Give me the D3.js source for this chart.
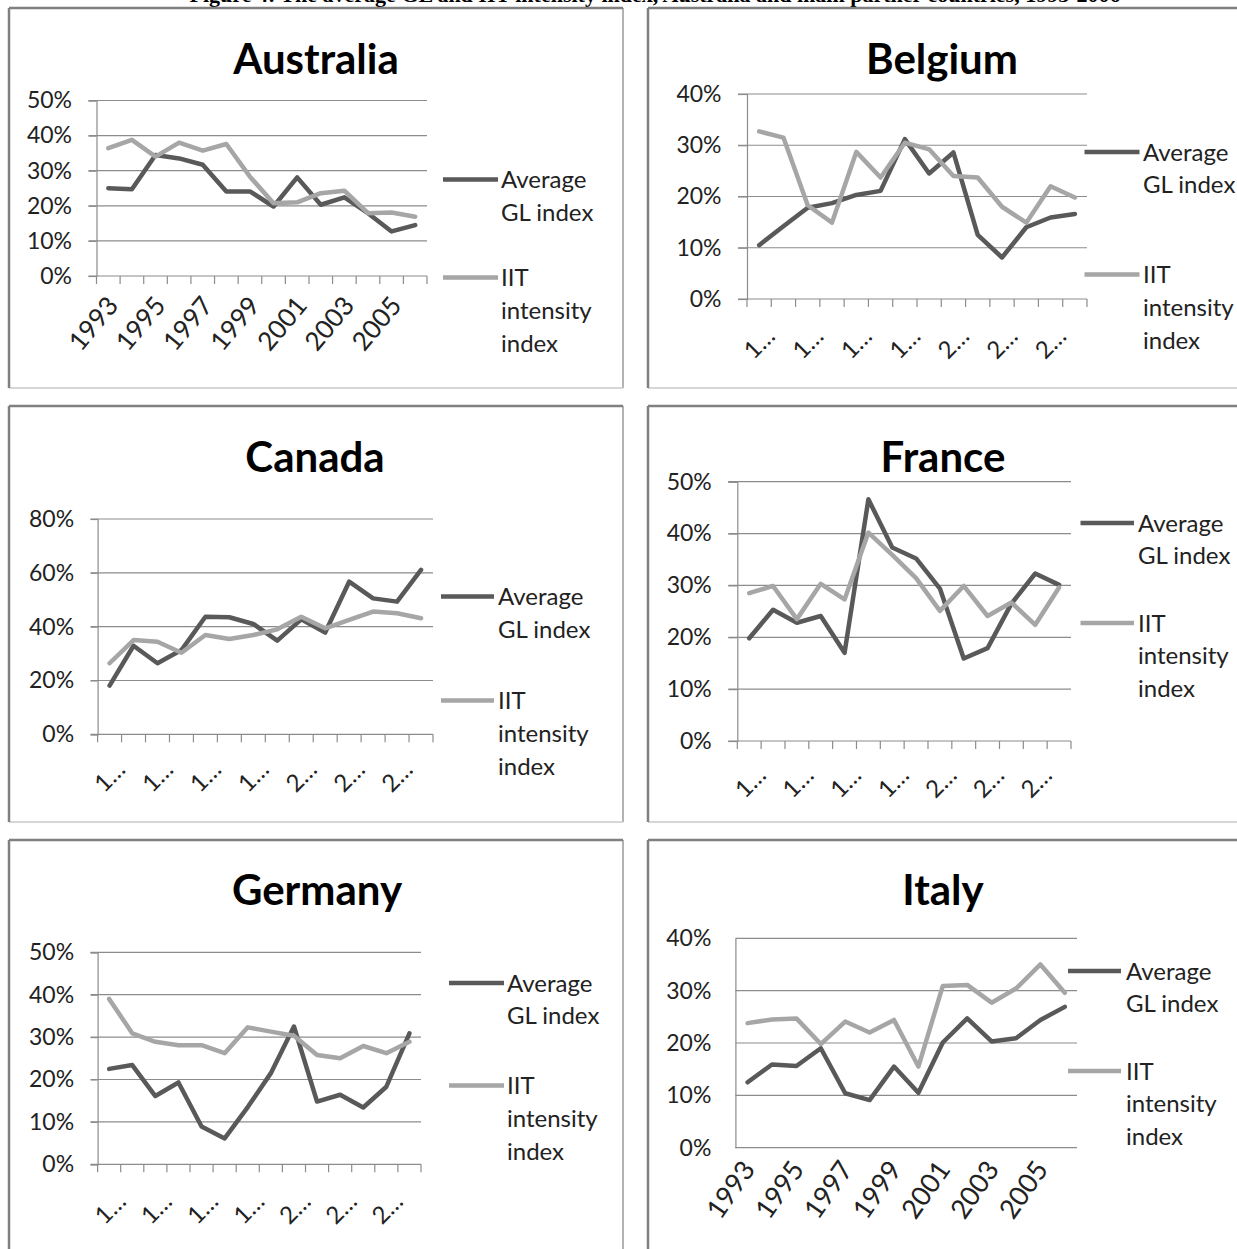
<!DOCTYPE html>
<html><head><meta charset="utf-8">
<script src="https://cdn.jsdelivr.net/npm/d3@7"></script>
<style>body{margin:0;background:#fff;overflow:hidden}svg{display:block}</style>
</head><body><svg id="chart" width="1237" height="1249"></svg>
<script>
// ---------------- data ----------------
const years = ["1993","1994","1995","1996","1997","1998","1999","2000","2001","2002","2003","2004","2005","2006"];
const labelIndex = [0, 2, 4, 6, 8, 10, 12];
const fullTickLabels = ["1993","1995","1997","1999","2001","2003","2005"];
const shortTickLabels = ["1…","1…","1…","1…","2…","2…","2…"];
const countries = ["Australia","Belgium","Canada","France","Germany","Italy"];
const legendLabels = [["Average","GL index"],["IIT","intensity","index"]];
const yMax = [50, 40, 80, 50, 50, 40];
const yStep = [10, 10, 20, 10, 10, 10];
const caption = "Figure 4: The average GL and IIT intensity index, Australia and main partner countries, 1993-2006";

const glAustralia  = [25.0, 24.7, 34.5, 33.5, 31.7, 24.1, 24.1, 19.8, 28.1, 20.3, 22.4, 17.9, 12.7, 14.5];
const iitAustralia = [36.4, 38.8, 34.0, 38.0, 35.7, 37.6, 28.3, 20.7, 21.0, 23.6, 24.3, 17.9, 18.1, 16.9];
const glBelgium    = [10.5, 14.2, 17.8, 18.7, 20.3, 21.1, 31.2, 24.5, 28.6, 12.5, 8.1, 14.0, 15.9, 16.6];
const iitBelgium   = [32.7, 31.5, 18.3, 14.9, 28.7, 23.7, 30.5, 29.2, 24.0, 23.7, 18.0, 14.9, 22.0, 19.8];
const glCanada     = [18.1, 32.9, 26.4, 31.3, 43.7, 43.5, 41.0, 34.8, 42.7, 37.8, 56.7, 50.5, 49.3, 61.1];
const iitCanada    = [26.4, 35.0, 34.4, 30.3, 36.9, 35.4, 36.9, 39.0, 43.7, 39.4, 42.5, 45.6, 45.0, 43.1];
const glFrance     = [19.8, 25.3, 22.8, 24.1, 17.0, 46.6, 37.3, 35.2, 29.4, 15.9, 17.9, 26.5, 32.3, 30.1];
const iitFrance    = [28.5, 29.9, 23.5, 30.3, 27.3, 40.2, 35.9, 31.4, 25.1, 29.9, 24.1, 26.7, 22.4, 29.6];
const glGermany    = [22.5, 23.4, 16.1, 19.3, 8.9, 6.1, 13.5, 21.5, 32.5, 14.8, 16.4, 13.4, 18.3, 30.9];
const iitGermany   = [39.0, 30.9, 28.9, 28.1, 28.1, 26.2, 32.3, 31.3, 30.3, 25.8, 25.0, 27.9, 26.2, 28.9];
const glItaly      = [12.5, 15.9, 15.6, 19.0, 10.4, 9.1, 15.5, 10.5, 20.1, 24.7, 20.3, 20.9, 24.4, 26.9];
const iitItaly     = [23.8, 24.5, 24.7, 19.8, 24.1, 22.0, 24.4, 15.5, 30.9, 31.1, 27.7, 30.4, 35.0, 29.6];

const glSeries  = [glAustralia, glBelgium, glCanada, glFrance, glGermany, glItaly];
const iitSeries = [iitAustralia, iitBelgium, iitCanada, iitFrance, iitGermany, iitItaly];

// ---------------- layout (positions / styles) ----------------
// lab: [dx, dy, rotation, font-size] for the category labels
const layout = [
  {box:[9,8,623,388],     axL:96.5,  axR:427,  y0:276,    yTop:100.5, tick:8, title:[316,73.5], leg:{x1:443, x2:498, tx:501, y1:179.5, y2:277.5}, full:true,  ticksX:true,  lab:[-15, 47.5, -50, 26]},
  {box:[648,8,1260,388],  axL:747,   axR:1087, y0:299,    yTop:94,    tick:9, title:[942,74],   leg:{x1:1084.5, x2:1139.5, tx:1143, y1:152, y2:274.5}, full:false, ticksX:true, lab:[0, 44, -45, 24]},
  {box:[9,406,623,822],   axL:97.6,  axR:433,  y0:734.3,  yTop:519,   tick:7, title:[315,472],  leg:{x1:441, x2:494, tx:498, y1:596.5, y2:700.5}, full:false, ticksX:true, lab:[0, 42, -45, 24]},
  {box:[648,406,1260,822],axL:737.3, axR:1071, y0:741,    yTop:481.7, tick:9, title:[943,472],  leg:{x1:1080.5, x2:1134, tx:1138, y1:523, y2:623}, full:false, ticksX:true, lab:[1, 41, -45, 24]},
  {box:[9,840,623,1270],  axL:97.6,  axR:421,  y0:1164.3, yTop:952.3, tick:7, title:[317,905],  leg:{x1:449, x2:504, tx:507, y1:983, y2:1085.5}, full:false, ticksX:true, lab:[1, 44, -45, 24]},
  {box:[648,840,1260,1270],axL:735.4,axR:1077, y0:1147.7, yTop:938.3, tick:0, title:[943,905],  leg:{x1:1068, x2:1121, tx:1126, y1:971, y2:1071}, full:true,  ticksX:false, lab:[-17, 42, -55, 27]}
];

const GL_COLOR = "#595959", IIT_COLOR = "#a6a6a6", GRID = "#8c8c8c";
const FONT = "Lato, 'Open Sans', sans-serif";
const svg = d3.select("#chart");

// caption (mostly clipped at the top, as in the source page)
svg.append("text").attr("x", 655).attr("y", 2).attr("text-anchor", "middle")
  .attr("font-family", "'Liberation Serif', 'Times New Roman', serif").attr("font-weight", "bold")
  .attr("font-size", 22).attr("fill", "#000").text(caption);

countries.forEach((name, k) => {
  const L = layout[k];
  const g = svg.append("g");
  const [bx1, by1, bx2, by2] = L.box;

  // panel border
  g.append("line").attr("x1", bx2).attr("y1", by1).attr("x2", bx2).attr("y2", by2).attr("stroke", "#9a9a9a").attr("stroke-width", 1.5);
  g.append("line").attr("x1", bx1).attr("y1", by2).attr("x2", bx2).attr("y2", by2).attr("stroke", "#c8c8c8").attr("stroke-width", 1.5);
  g.append("line").attr("x1", bx1).attr("y1", by1).attr("x2", bx2).attr("y2", by1).attr("stroke", "#808080").attr("stroke-width", 2.5);
  g.append("line").attr("x1", bx1).attr("y1", by1).attr("x2", bx1).attr("y2", by2).attr("stroke", "#808080").attr("stroke-width", 2.5);

  const x = d3.scaleBand().domain(years).range([L.axL, L.axR]).padding(0);
  const y = d3.scaleLinear().domain([0, yMax[k]]).range([L.y0, L.yTop]);
  const bw = x.bandwidth();
  const cx = yr => x(yr) + bw / 2;
  const ticks = d3.range(0, yMax[k] + yStep[k] / 2, yStep[k]);

  // gridlines
  g.append("g").selectAll("line").data(ticks).join("line")
    .attr("x1", L.axL - L.tick).attr("x2", L.axR)
    .attr("y1", d => y(d)).attr("y2", d => y(d))
    .attr("stroke", GRID).attr("stroke-width", 1.2);

  // y axis
  const yAxis = d3.axisLeft(y).tickValues(ticks).tickSize(L.tick).tickPadding(k === 5 ? 24 : 16.5)
    .tickFormat(d => d + "%");
  const ya = g.append("g").attr("transform", `translate(${L.axL},0)`).call(yAxis);
  ya.select(".domain").attr("stroke", GRID).attr("stroke-width", 1.2);
  ya.selectAll(".tick line").attr("stroke", GRID).attr("stroke-width", 1.2);
  ya.selectAll(".tick text").attr("font-family", FONT).attr("font-size", 23).attr("fill", "#222");

  // x tick marks at category boundaries
  if (L.ticksX) {
    const bounds = years.map(yr => x(yr)).concat([L.axR]);
    g.append("g").selectAll("line").data(bounds).join("line")
      .attr("x1", d => d).attr("x2", d => d).attr("y1", L.y0).attr("y2", L.y0 + 8)
      .attr("stroke", GRID).attr("stroke-width", 1.2);
  }

  // x labels (rotated)
  const labels = L.full ? fullTickLabels : shortTickLabels;
  const [ldx, ldy, lrot, lfs] = L.lab;
  g.append("g").selectAll("text").data(labelIndex).join("text")
    .attr("transform", d => `translate(${cx(years[d]) + ldx},${L.y0 + ldy}) rotate(${lrot})`)
    .attr("text-anchor", "middle").attr("dy", "0.35em")
    .attr("font-family", FONT).attr("font-size", lfs).attr("fill", "#222")
    .text((d, i) => labels[i]);

  // series lines
  const line = d3.line().x((d, i) => cx(years[i])).y(d => y(d));
  g.append("path").datum(glSeries[k]).attr("d", line).attr("fill", "none")
    .attr("stroke", GL_COLOR).attr("stroke-width", 4.5).attr("stroke-linejoin", "round").attr("stroke-linecap", "round");
  g.append("path").datum(iitSeries[k]).attr("d", line).attr("fill", "none")
    .attr("stroke", IIT_COLOR).attr("stroke-width", 4.5).attr("stroke-linejoin", "round").attr("stroke-linecap", "round");

  // title
  g.append("text").attr("x", L.title[0]).attr("y", L.title[1]).attr("text-anchor", "middle")
    .attr("font-family", FONT).attr("font-weight", "bold").attr("font-size", 42).attr("fill", "#000")
    .text(name);

  // legend
  const lg = L.leg;
  [[lg.y1, GL_COLOR, legendLabels[0]], [lg.y2, IIT_COLOR, legendLabels[1]]].forEach(([ly, col, lines]) => {
    g.append("line").attr("x1", lg.x1).attr("x2", lg.x2).attr("y1", ly).attr("y2", ly)
      .attr("stroke", col).attr("stroke-width", 4.5);
    const t = g.append("text").attr("x", lg.tx).attr("y", ly)
      .attr("font-family", FONT).attr("font-size", 24).attr("fill", "#222");
    lines.forEach((s, j) => {
      t.append("tspan").attr("x", lg.tx).attr("dy", j === 0 ? "0.36em" : 32.7).text(s);
    });
  });
});
</script>
</body></html>
